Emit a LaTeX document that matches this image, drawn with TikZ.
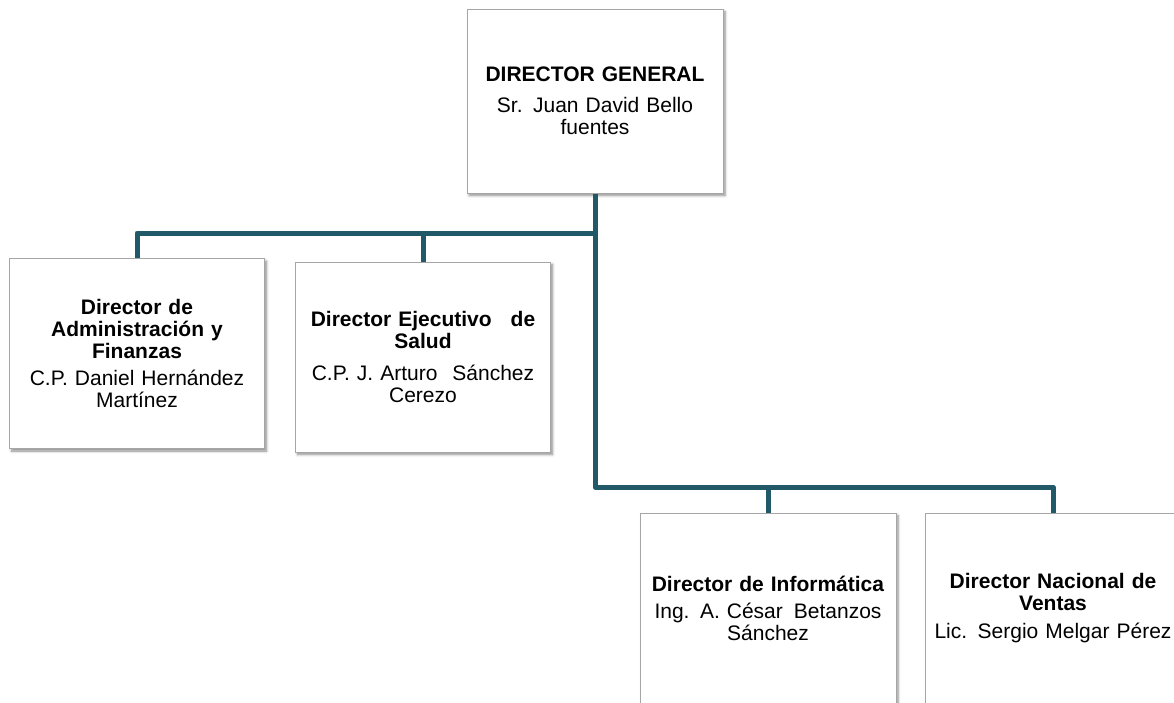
\documentclass[tikz,border=0pt]{standalone}
\usepackage{fontspec}
\setmainfont{Liberation Sans}
\usetikzlibrary{shadows.blur}
\definecolor{orgteal}{HTML}{215968}
\definecolor{boxgray}{HTML}{A6A6A6}

\begin{document}
\begin{tikzpicture}[x=1pt, y=-1pt,
		orgbox/.style={draw=boxgray, line width=1pt, fill=white, minimum width=255pt, minimum height=190pt,
			text width=242pt, align=center, inner sep=0pt, font=\fontsize{21}{22}\selectfont,
			blur shadow={shadow xshift=2pt, shadow yshift=-2.5pt, shadow blur steps=6, shadow blur radius=2.5pt, shadow opacity=45}},
		orgline/.style={draw=orgteal, line width=5pt, line join=round}]
	\useasboundingbox (0,0) rectangle (1174,702);

	\node[orgbox, minimum width=256pt, minimum height=184pt] (gen) at (595,101)
		{\textbf{DIRECTOR GENERAL}\\[9pt] Sr. Juan David Bello\\ fuentes};
	\node[orgbox] (admin) at (137,353.5)
		{\textbf{Director de}\\ \textbf{Administración y}\\ \textbf{Finanzas}\\[5pt] C.P. Daniel Hernández\\ Martínez};
	\node[orgbox] (salud) at (423,357)
		{\textbf{Director Ejecutivo\hspace{12pt} de}\\ \textbf{Salud}\\[10pt] C.P. J. Arturo\hspace{8pt} Sánchez\\ Cerezo};
	\node[orgbox, minimum width=256pt] (info) at (768,608)
		{\textbf{Director de Informática}\\[5pt] Ing. A. César\hspace{4pt} Betanzos\\ Sánchez};
	\node[orgbox, minimum width=256pt] (ventas) at (1053,608)
		{\textbf{Director Nacional de}\\ \textbf{Ventas}\\[6pt] Lic. Sergio Melgar Pérez};

	\coordinate (upbus) at (595,233);
	\coordinate (lowbus) at (595,487);

	\draw[orgline] (gen.south) -- (lowbus) -| (ventas.north);
	\draw[orgline] (admin.north) |- (upbus);
	\draw[orgline] (salud.north) -- (salud.north |- upbus);
	\draw[orgline] (info.north) -- (info.north |- lowbus);

\end{tikzpicture}
\end{document}
